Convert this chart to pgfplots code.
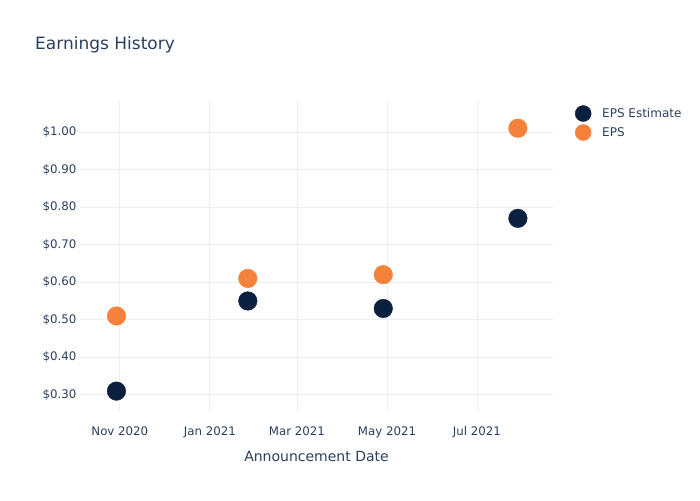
\documentclass[border=0pt]{standalone}
\usepackage{fontspec}
\setmainfont{DejaVu Sans}
\usepackage{pgfplots}
\pgfplotsset{compat=1.18}
\definecolor{navy}{HTML}{0B1F3F}
\definecolor{orng}{HTML}{F5823A}
\definecolor{txt}{HTML}{2A3F5F}
\definecolor{grd}{HTML}{EBEFF5}
\begin{document}
\begin{tikzpicture}
\useasboundingbox (0pt,0pt) rectangle (700pt,500pt);
\node[anchor=base west,inner sep=0pt,text=txt,font=\fontsize{17}{20}\selectfont] at (35pt,450pt) {Earnings History};
% x: days since 1 Nov 2020
\begin{axis}[
  at={(80pt,89pt)}, anchor=south west,
  width=473pt, height=310pt, scale only axis,
  xmin=-27, xmax=293.5, ymin=0.257, ymax=1.0825,
  axis line style={draw=none}, tick style={draw=none},
  xtick={0,61,120,181,242},
  xticklabels={Nov 2020,Jan 2021,Mar 2021,May 2021,Jul 2021},
  ytick={0.3,0.4,0.5,0.6,0.7,0.8,0.9,1.0},
  yticklabels={\$0.30,\$0.40,\$0.50,\$0.60,\$0.70,\$0.80,\$0.90,\$1.00},
  ticklabel style={font=\fontsize{11.8}{14}\selectfont, text=txt},
  xticklabel style={yshift=-12pt},
  grid=both, major grid style={grd, line width=0.8pt},
  xlabel={Announcement Date},
  xlabel style={font=\fontsize{14}{16}\selectfont, text=txt, yshift=-7pt},
  legend style={at={(rel axis cs:1.0465,0.986)}, anchor=north west, draw=none, fill=none,
    inner sep=0pt, font=\fontsize{12}{14}\selectfont, text=txt, row sep=3pt},
  legend image code/.code={
    \draw[#1,mark size=8pt] plot coordinates {(0pt,0pt)};
    \path[draw=none,fill=none] (-8pt,-8pt) rectangle (17pt,8pt);},
  legend cell align=left,
  clip=false,
]
\addplot[only marks, mark=*, mark size=9.3pt, color=navy] coordinates {
  (-2.3,0.31) (86.7,0.55) (178.5,0.53) (269.7,0.77)};
\addlegendentry{EPS Estimate}
\addplot[only marks, mark=*, mark size=9.3pt, color=orng] coordinates {
  (-2.3,0.51) (86.7,0.61) (178.5,0.62) (269.7,1.01)};
\addlegendentry{EPS}
\end{axis}
\end{tikzpicture}
\end{document}
